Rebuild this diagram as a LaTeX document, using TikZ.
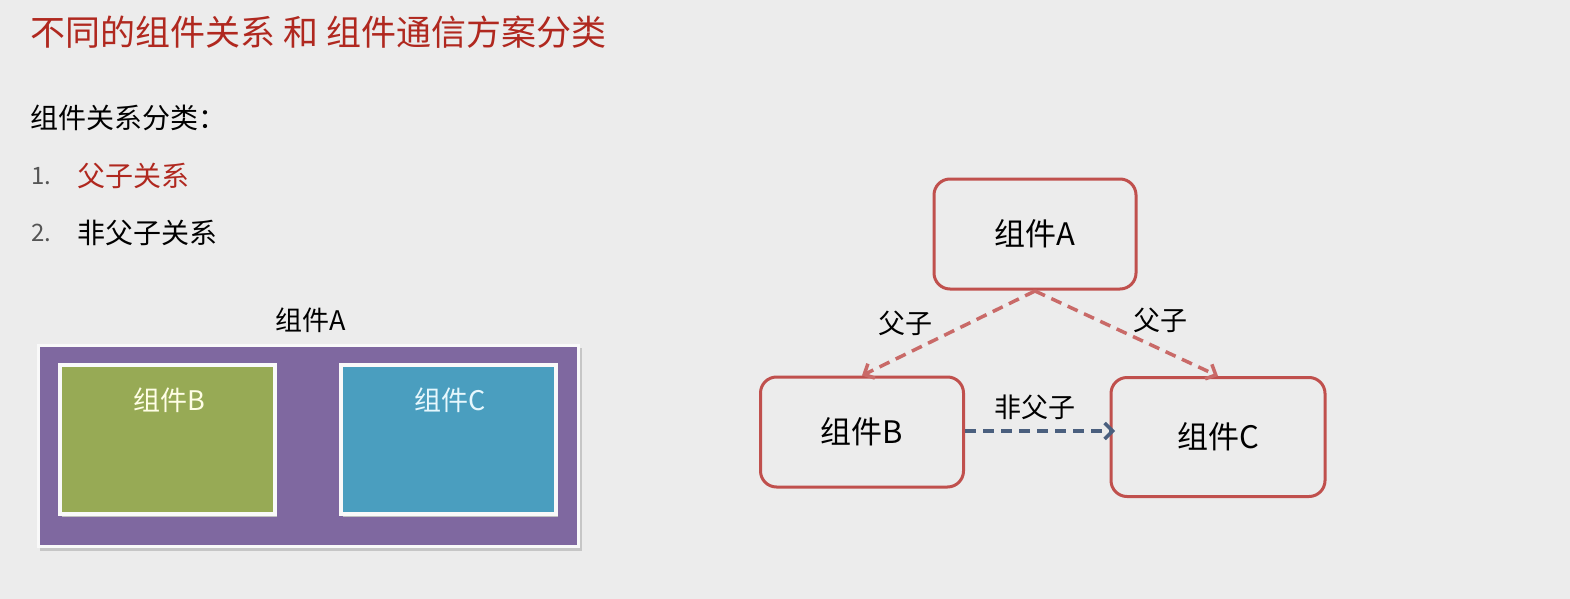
\documentclass[tikz,border=0pt]{standalone}
\usepackage{fontspec}
\setmainfont{Noto Sans CJK SC}
\usetikzlibrary{arrows.meta}
\definecolor{bg}{HTML}{ECECEC}
\definecolor{ttl}{HTML}{B0281F}
\definecolor{bord}{HTML}{C0504D}
\definecolor{purp}{HTML}{7F68A0}
\definecolor{grn}{HTML}{97AA55}
\definecolor{blu}{HTML}{4A9EBF}
\definecolor{dash}{HTML}{4A5F7E}
\definecolor{gry}{HTML}{555555}
\tikzset{
  rbox/.style={draw=bord,line width=3pt,rounded corners=16pt,fill=bg},
  fz/.style={font=\fontsize{31}{36}\selectfont},
  lbl/.style={font=\fontsize{27}{32}\selectfont},
  inbox/.style={draw=white!95!gray,line width=4pt},
  parr/.style={draw=bord!85!white,line width=3.5pt,dash pattern=on 11pt off 7pt,-{Straight Barb[length=8pt,width=16pt]}},
}
\begin{document}
\begin{tikzpicture}[x=1pt,y=-1pt]
\fill[bg] (0,0) rectangle (1570,599);
\useasboundingbox (0,0) rectangle (1570,599);
\node[anchor=west,text=ttl,font=\fontsize{35}{40}\selectfont] (title) at (27,32) {不同的组件关系 和 组件通信方案分类};
\node[anchor=west,font=\fontsize{28}{32}\selectfont] (sub) at (27,118) {组件关系分类：};
\node[anchor=west,text=gry,font=\fontsize{24}{28}\selectfont] (n1) at (28,176) {1.};
\node[anchor=west,text=ttl,font=\fontsize{28}{32}\selectfont] (i1) at (74,176) {父子关系};
\node[anchor=west,text=gry,font=\fontsize{24}{28}\selectfont] (n2) at (28,233) {2.};
\node[anchor=west,font=\fontsize{28}{32}\selectfont] (i2) at (74,233) {非父子关系};
% left nested
\fill[gray!45] (40,348) rectangle (582,551);
\draw[fill=purp,draw=white!95!gray,line width=3pt] (38,345) rectangle (578,546);
\node[lbl] (la) at (311,320) {组件A};
\fill[gray!50] (62,368) rectangle (277,517);
\draw[inbox,fill=grn] (60,365) rectangle (275,514);
\node[lbl,text=white!90!yellow] (lb) at (169,400) {组件B};
\fill[gray!50] (343,368) rectangle (558,517);
\draw[inbox,fill=blu] (341,365) rectangle (556,514);
\node[lbl,text=white!90!cyan] (lc) at (450,400) {组件C};
% right graph
\node[rbox,fz,minimum width=202pt,minimum height=110pt] (A) at (1035,234) {组件A};
\node[rbox,fz,minimum width=203pt,minimum height=110pt] (B) at (862,432) {组件B};
\node[rbox,fz,minimum width=214pt,minimum height=119pt] (C) at (1218,437) {组件C};
\coordinate (As) at (1035,291);
\draw[parr] (As) -- (B.north);
\draw[parr] (As) -- (C.north);
\draw[parr,draw=dash] (B.east |- 0,431) -- (1115,431);
\node[lbl] (l1) at (905,323) {父子};
\node[lbl] (l2) at (1160,320) {父子};
\node[lbl] (l3) at (1035,407) {非父子};
\end{tikzpicture}
\end{document}
